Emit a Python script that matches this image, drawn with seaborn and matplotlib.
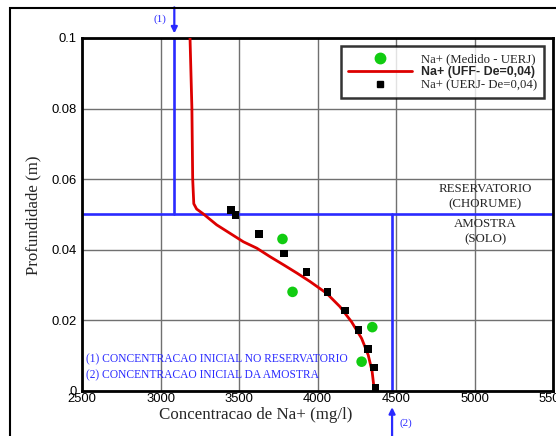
import numpy as np
import pandas as pd
import matplotlib
matplotlib.use("Agg")
import matplotlib.pyplot as plt
from matplotlib.lines import Line2D
from matplotlib.patches import Rectangle
from matplotlib.ticker import MultipleLocator
import seaborn as sns

# ---------------- data ----------------
curve_conc = [3188, 3200, 3205, 3212, 3230, 3273, 3358, 3443, 3528, 3613, 3697,
              3790, 3870, 3950, 4058, 4143, 4217, 4281, 4323, 4348, 4362]
curve_depth = [0.1, 0.08, 0.06, 0.053, 0.0515, 0.0501, 0.047, 0.0446, 0.0422,
               0.0404, 0.038, 0.0355, 0.0333, 0.031, 0.0276, 0.0238, 0.0195,
               0.0148, 0.0101, 0.0054, 0.0]

uerj_conc = [3449, 3478, 3629, 3788, 3930, 4064, 4175, 4260, 4320, 4358, 4370]
uerj_depth = [0.0512, 0.0498, 0.0444, 0.0389, 0.0336, 0.028, 0.0227, 0.0172,
              0.0118, 0.0065, 0.0009]

med_conc = [3777, 3841, 4349, 4281]
med_depth = [0.043, 0.028, 0.018, 0.0082]

c_reservatorio = 3088   # (1)
c_amostra = 4475        # (2)
interface_depth = 0.05

x_ticks = [2500, 3000, 3500, 4000, 4500, 5000, 5500]
y_ticks = [0, 0.02, 0.04, 0.06, 0.08, 0.1]
y_tick_labels = ["0", "0.02", "0.04", "0.06", "0.08", "0.1"]

legend_labels = ["Na+ (Medido - UERJ)", "Na+ (UFF- De=0,04)", "Na+ (UERJ- De=0,04)"]

# ---------------- style ----------------
sns.set_style("white")
plt.rcParams["font.family"] = ["Liberation Sans", "DejaVu Sans"]

W, H = 556, 436
fig = plt.figure(figsize=(W / 100, H / 100), dpi=100)
fig.patch.set_facecolor("white")

# outer frame
fig.patches.append(Rectangle((10 / W, -0.1), 1.2, 1 - 8 / H + 0.1,
                             transform=fig.transFigure, fill=False,
                             edgecolor="black", lw=1.5, zorder=0))

ax = fig.add_axes([82 / W, 1 - 390.6 / H, (553 - 82) / W, (390.6 - 38) / H])
ax.set_xlim(2500, 5500)
ax.set_ylim(0, 0.1)

blue = "#2a2aff"
red = "#dd0000"
green = "#11cc11"

# grid
ax.set_xticks(x_ticks)
ax.set_yticks(y_ticks)
ax.set_yticklabels(y_tick_labels)
ax.xaxis.set_minor_locator(MultipleLocator(100))
ax.yaxis.set_minor_locator(MultipleLocator(0.004))
ax.grid(True, which="major", color="#707070", lw=1.0)
ax.set_axisbelow(True)

# blue reference lines
ax.plot([2500, 5500], [interface_depth, interface_depth], color=blue, lw=1.9, zorder=2)
ax.plot([c_reservatorio, c_reservatorio], [interface_depth, 0.1], color=blue, lw=1.9, zorder=2)
ax.plot([c_amostra, c_amostra], [0, interface_depth], color=blue, lw=1.9, zorder=2)

# arrows outside the axes
ax.annotate("", xy=(c_reservatorio, 0.1013), xytext=(c_reservatorio, 0.1087),
            arrowprops=dict(arrowstyle="-|>", color=blue, lw=1.6, mutation_scale=9,
                            shrinkA=0, shrinkB=0), annotation_clip=False)
ax.annotate("", xy=(c_amostra, -0.0047), xytext=(c_amostra, -0.0135),
            arrowprops=dict(arrowstyle="-|>", color=blue, lw=1.6, mutation_scale=9,
                            shrinkA=0, shrinkB=0), annotation_clip=False)
ax.text(2997, 0.1054, "(1)", color=blue, family="Liberation Serif", fontsize=8,
        ha="center", va="center", clip_on=False)
ax.text(4564, -0.0092, "(2)", color=blue, family="Liberation Serif", fontsize=8,
        ha="center", va="center", clip_on=False)

# data series via seaborn
df_curve = pd.DataFrame({"conc": curve_conc, "depth": curve_depth})
df_uerj = pd.DataFrame({"conc": uerj_conc, "depth": uerj_depth})
df_med = pd.DataFrame({"conc": med_conc, "depth": med_depth})

sns.lineplot(data=df_curve, x="conc", y="depth", sort=False, estimator=None,
             color=red, lw=2.0, ax=ax, zorder=3)
sns.scatterplot(data=df_uerj, x="conc", y="depth", marker="s", s=30, color="black",
                edgecolor="none", ax=ax, zorder=4)
sns.scatterplot(data=df_med, x="conc", y="depth", marker="o", s=58, color=green,
                edgecolor="none", ax=ax, zorder=4)

# region texts
serif = "Liberation Serif"
ax.text(5067, 0.0571, "RESERVATORIO", family=serif, fontsize=9.3, ha="center", va="center")
ax.text(5067, 0.0529, "(CHORUME)", family=serif, fontsize=9.3, ha="center", va="center")
ax.text(5067, 0.0472, "AMOSTRA", family=serif, fontsize=9.3, ha="center", va="center")
ax.text(5067, 0.0430, "(SOLO)", family=serif, fontsize=9.3, ha="center", va="center")
ax.text(2525, 0.0088, "(1) CONCENTRACAO INICIAL NO RESERVATORIO", family=serif,
        fontsize=8.3, color=blue, ha="left", va="center")
ax.text(2525, 0.0043, "(2) CONCENTRACAO INICIAL DA AMOSTRA", family=serif,
        fontsize=8.3, color=blue, ha="left", va="center")

# spines / ticks
for side in ["left", "bottom", "top", "right"]:
    ax.spines[side].set_visible(True)
    ax.spines[side].set_color("black")
    ax.spines[side].set_linewidth(2.0)
ax.tick_params(which="major", direction="in", length=6, width=1.5, labelsize=9.4,
               colors="black", pad=4, top=False, right=False)
ax.tick_params(axis="x", which="major", pad=2)
ax.tick_params(which="minor", direction="in", length=3, width=1.0,
               top=False, right=False)

ax.set_xlabel("Concentracao de Na+ (mg/l)", family=serif, fontsize=12.2)
ax.set_ylabel("Profundidade (m)", family=serif, fontsize=12.2)
ax.xaxis.set_label_coords(0.369, -0.047)
ax.yaxis.set_label_coords(-0.086, 0.498)

# legend
handles = [
    Line2D([], [], ls="none", marker="o", color=green, markersize=7.5),
    Line2D([], [], color=red, lw=2.0),
    Line2D([], [], ls="none", marker="s", color="black", markersize=5),
]
leg = ax.legend(handles, legend_labels, loc="upper right",
                bbox_to_anchor=((544 - 82) / 471, (390.6 - 46) / 352.6),
                frameon=True, fancybox=False, fontsize=9.2, handlelength=5.0,
                handletextpad=0.7, labelspacing=0.08, borderpad=0.55,
                borderaxespad=0)
leg.get_frame().set_edgecolor("black")
leg.get_frame().set_linewidth(1.8)
texts = leg.get_texts()
texts[0].set_family(serif)
texts[1].set_family("Liberation Sans")
texts[1].set_fontweight("bold")
texts[1].set_fontsize(8.9)
texts[2].set_family(serif)

fig.savefig("out.png", dpi=100, facecolor="white")
